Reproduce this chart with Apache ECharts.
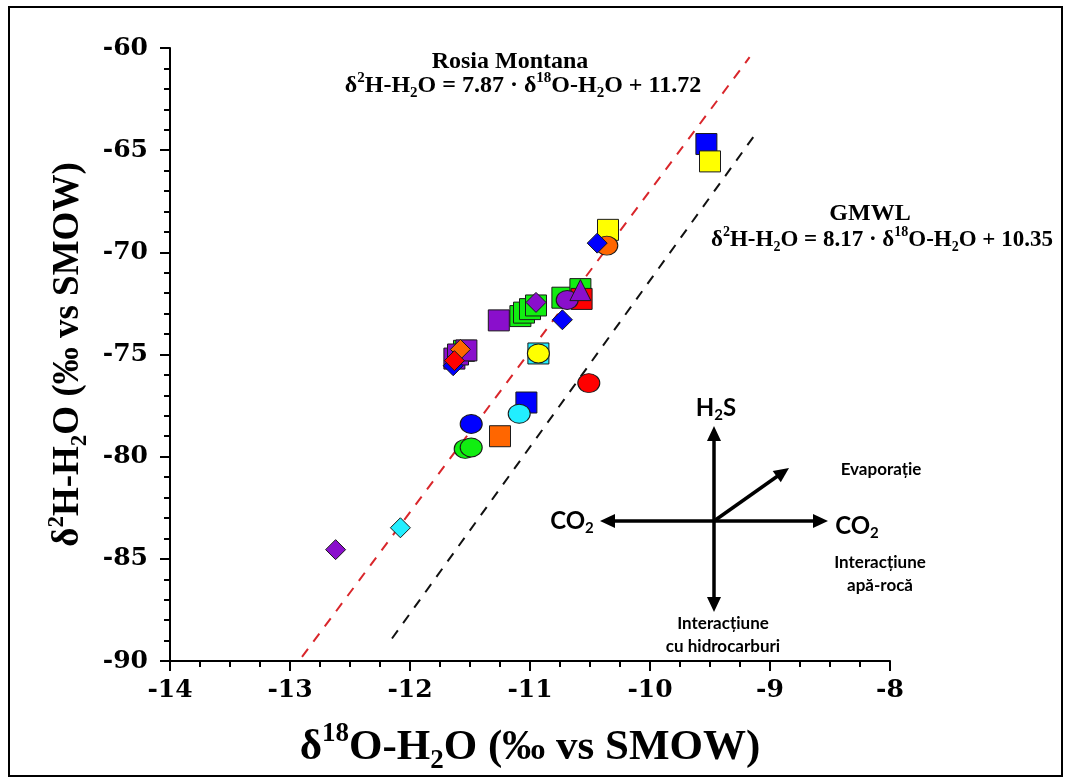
<!DOCTYPE html>
<html>
<head>
<meta charset="utf-8">
<script src="https://cdn.jsdelivr.net/npm/echarts@6/dist/echarts.min.js"></script>
<style>html,body{margin:0;padding:0;background:#fff}#c{width:1068px;height:780px}</style>
</head>
<body>
<div id="c"></div>
<script>
// ---- axis ticks ----
const xTicks = [-14, -13, -12, -11, -10, -9, -8];
const yTicks = [-90, -85, -80, -75, -70, -65, -60];

// ---- regression / reference lines (endpoints) ----
const rosiaLine = [[-12.9, -89.8], [-9.17, -60.45]];
const gmwlLine = [[-12.15, -88.9], [-9.12, -64.2]];

// ---- squares ----
const sqBlue = [[-9.53, -64.7], [-11.03, -77.35]];
const sqYellow = [[-9.5, -65.55], [-10.35, -68.9]];
const sqGreen = [[-11.55, -74.82], [-11.08, -73.12], [-11.05, -72.95], [-11.0, -72.78], [-10.95, -72.6], [-10.73, -72.22], [-10.58, -71.8]];
const sqPurple = [[-11.26, -73.33], [-11.63, -75.2], [-11.6, -75.0], [-11.53, -74.8]];
const sqOrange = [[-11.25, -79.0]];
const sqRed = [[-10.57, -72.28]];
const sqCyan = [[-10.93, -74.95]];

// ---- circles ----
const ciYellow = [[-10.93, -74.95]];
const ciRed = [[-10.51, -76.4]];
const ciOrange = [[-10.36, -69.67]];
const ciPurple = [[-10.69, -72.33]];
const ciCyan = [[-11.09, -77.9]];
const ciBlue = [[-11.49, -78.4]];
const ciGreen = [[-11.54, -79.62], [-11.49, -79.55]];

// ---- diamonds ----
const dmBlue = [[-10.44, -69.55], [-10.73, -73.3], [-11.64, -75.55]];
const dmPurple = [[-10.95, -72.45], [-12.62, -84.55]];
const dmOrange = [[-11.58, -74.75]];
const dmRed = [[-11.63, -75.3]];
const dmCyan = [[-12.08, -83.48]];

// ---- triangles ----
const trPurple = [[-10.58, -71.85]];

const C = {
  blue: '#0000ff', yellow: '#ffff00', green: '#11ee11', purple: '#8a0fcc',
  orange: '#ff6600', red: '#ff0000', cyan: '#22eeff'
};

const serif = 'Liberation Serif';
const tickSerif = 'DejaVu Serif';
const sans = 'Lato';

function sc(name, data, symbol, color, size) {
  return {
    name: name, type: 'scatter', data: data, symbol: symbol, symbolSize: size,
    itemStyle: { color: color, borderColor: '#1a1a1a', borderWidth: 1, opacity: 1 },
    z: 3
  };
}
function ln(data, color) {
  return {
    type: 'line', data: data, symbol: 'none', silent: true, z: 2,
    lineStyle: { color: color, width: 2, type: [10, 9] }
  };
}

function richSet(fs, family, weight) {
  const subFs = Math.round(fs * 0.62);
  return {
    m: { fontFamily: family, fontWeight: weight, fontSize: fs, lineHeight: Math.round(fs * 1.25), color: '#000' },
    sub: { fontFamily: family, fontWeight: weight, fontSize: subFs, lineHeight: subFs, verticalAlign: 'bottom', color: '#000' },
    sup: { fontFamily: family, fontWeight: weight, fontSize: subFs, lineHeight: subFs, verticalAlign: 'top', color: '#000' }
  };
}
const tickRich = { t: { fontFamily: tickSerif, fontWeight: 'bold', fontSize: 25, color: '#000', lineHeight: 28 } };

// arrow helper (schematic diagram, pixel space)
function arrow(x1, y1, x2, y2) {
  const dx = x2 - x1, dy = y2 - y1, L = Math.sqrt(dx * dx + dy * dy);
  const ux = dx / L, uy = dy / L, hl = 15, hw = 7;
  const bx = x2 - ux * hl, by = y2 - uy * hl;
  return [
    { type: 'line', shape: { x1: x1, y1: y1, x2: bx + ux * 2, y2: by + uy * 2 }, style: { stroke: '#000', lineWidth: 3.5 } },
    { type: 'polygon', shape: { points: [[x2, y2], [bx - uy * hw, by + ux * hw], [bx + uy * hw, by - ux * hw]] }, style: { fill: '#000' } }
  ];
}

const cx = 714, cy = 521;
const diagram = [].concat(
  arrow(cx, cy, cx, 426),
  arrow(cx, cy, cx, 612),
  arrow(cx, cy, 600, cy),
  arrow(cx, cy, 828, cy),
  arrow(cx, cy, 789, 468)
);

function txt(x, y, text, rich, align) {
  return { type: 'text', x: x, y: y, z: 10,
    style: { text: text, rich: rich, align: align || 'center', verticalAlign: 'middle' } };
}

const eqRich = richSet(24, serif, 'bold');
const eqRich2 = richSet(23, serif, 'bold');
const sansRich = richSet(24, sans, 'bold');
const smallSans = { fontFamily: sans, fontWeight: 'bold', fontSize: 17, fill: '#000' };

const graphics = [
  { type: 'rect', shape: { x: 9, y: 7, width: 1053, height: 769 }, style: { fill: 'none', stroke: '#000', lineWidth: 2 }, z: 0, silent: true },
  txt(510, 62, '{m|Rosia Montana}', eqRich),
  txt(523, 86, '{m|δ}{sup|2}{m|H-H}{sub|2}{m|O = 7.87 · δ}{sup|18}{m|O-H}{sub|2}{m|O + 11.72}', eqRich),
  txt(870, 214, '{m|GMWL}', eqRich),
  txt(882, 240, '{m|δ}{sup|2}{m|H-H}{sub|2}{m|O = 8.17 · δ}{sup|18}{m|O-H}{sub|2}{m|O + 10.35}', eqRich2),
  txt(716, 408, '{m|H}{sub|2}{m|S}', sansRich),
  txt(572, 521, '{m|CO}{sub|2}', sansRich),
  txt(857, 526, '{m|CO}{sub|2}', sansRich),
  { type: 'text', x: 881, y: 470, z: 10, style: Object.assign({ text: 'Evaporație', align: 'center', verticalAlign: 'middle' }, smallSans) },
  { type: 'text', x: 880, y: 574, z: 10, style: Object.assign({ text: 'Interacțiune\napă-rocă', align: 'center', verticalAlign: 'middle', lineHeight: 23 }, smallSans) },
  { type: 'text', x: 723, y: 635, z: 10, style: Object.assign({ text: 'Interacțiune\ncu hidrocarburi', align: 'center', verticalAlign: 'middle', lineHeight: 23 }, smallSans) }
].concat(diagram.map(function (g) { g.z = 9; g.silent = true; return g; }));

const axisNameRich = richSet(43, serif, 'bold');
const yNameRich = richSet(37, serif, 'bold');

const chart = echarts.init(document.getElementById('c'), null, { renderer: 'canvas' });
chart.setOption({
  animation: false,
  backgroundColor: '#fff',
  textStyle: { fontFamily: serif },
  grid: { left: 170, right: 178, top: 48, bottom: 102, containLabel: false },
  xAxis: {
    type: 'value', min: xTicks[0], max: xTicks[xTicks.length - 1], interval: 1,
    name: '{m|δ}{sup|18}{m|O-H}{sub|2}{m|O (‰ vs SMOW)}',
    nameLocation: 'middle', nameGap: 60,
    nameTextStyle: { rich: axisNameRich },
    axisLine: { onZero: false, lineStyle: { color: '#000', width: 2 } },
    axisTick: { show: true, inside: false, length: 10, lineStyle: { color: '#000', width: 2 } },
    minorTick: { show: true, splitNumber: 4, length: 6, lineStyle: { color: '#000', width: 2 } },
    splitLine: { show: false },
    axisLabel: { margin: 15, rich: tickRich, formatter: function (v) { return '{t|' + v + '}'; } }
  },
  yAxis: {
    type: 'value', min: yTicks[0], max: yTicks[yTicks.length - 1], interval: 5,
    name: '{m|δ}{sup|2}{m|H-H}{sub|2}{m|O (‰ vs SMOW)}',
    nameLocation: 'middle', nameGap: 74, nameRotate: 90,
    nameTextStyle: { rich: yNameRich },
    axisLine: { onZero: false, lineStyle: { color: '#000', width: 2 } },
    axisTick: { show: true, inside: false, length: 10, lineStyle: { color: '#000', width: 2 } },
    minorTick: { show: true, splitNumber: 5, length: 6, lineStyle: { color: '#000', width: 2 } },
    splitLine: { show: false },
    axisLabel: { margin: 22, rich: tickRich, formatter: function (v) { return '{t|' + v + '}'; } }
  },
  series: [
    ln(rosiaLine, '#d9262b'),
    ln(gmwlLine, '#111'),
    sc('sqBlue', sqBlue, 'rect', C.blue, 21),
    sc('sqYellow', sqYellow, 'rect', C.yellow, 21),
    sc('sqGreen', sqGreen, 'rect', C.green, 21),
    sc('sqPurple', sqPurple, 'rect', C.purple, 21),
    sc('sqOrange', sqOrange, 'rect', C.orange, 21),
    sc('sqRed', sqRed, 'rect', C.red, 21),
    sc('sqCyan', sqCyan, 'rect', C.cyan, 21),
    sc('ciYellow', ciYellow, 'circle', C.yellow, [22, 19]),
    sc('ciRed', ciRed, 'circle', C.red, [22, 19]),
    sc('ciOrange', ciOrange, 'circle', C.orange, [22, 19]),
    sc('ciPurple', ciPurple, 'circle', C.purple, [22, 19]),
    sc('ciCyan', ciCyan, 'circle', C.cyan, [22, 19]),
    sc('ciBlue', ciBlue, 'circle', C.blue, [22, 19]),
    sc('ciGreen', ciGreen, 'circle', C.green, [22, 19]),
    sc('dmBlue', dmBlue, 'diamond', C.blue, 20),
    sc('dmPurple', dmPurple, 'diamond', C.purple, 20),
    sc('dmOrange', dmOrange, 'diamond', C.orange, 20),
    sc('dmRed', dmRed, 'diamond', C.red, 20),
    sc('dmCyan', dmCyan, 'diamond', C.cyan, 20),
    sc('trPurple', trPurple, 'triangle', C.purple, 21)
  ],
  graphic: graphics
});
</script>
</body>
</html>
